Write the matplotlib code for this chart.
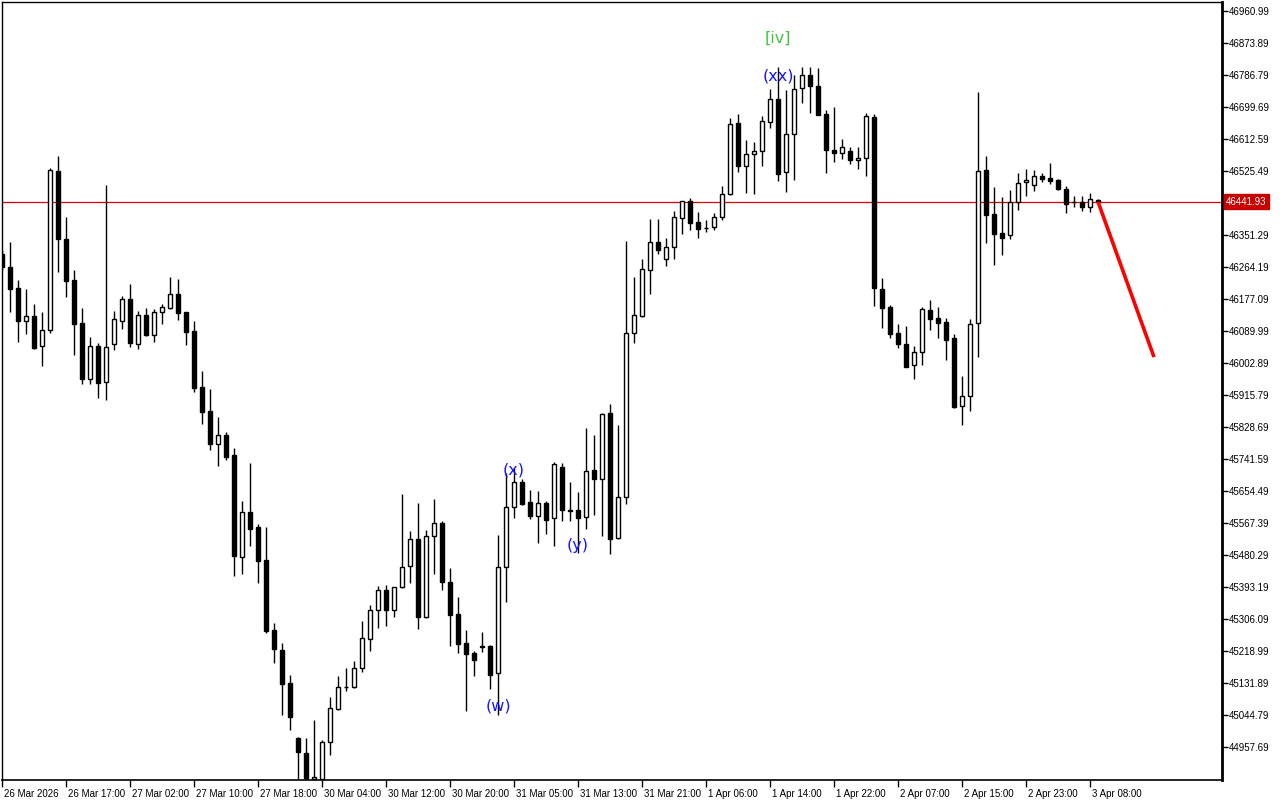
import matplotlib
matplotlib.use("Agg")
import matplotlib.pyplot as plt
import matplotlib.transforms as mtransforms
import numpy as np

# hourly candles, oldest first
opens = [46300, 46263, 46207, 46116, 46131, 46048, 46092, 46525, 46340, 46229,
         46112, 45960, 46048, 45950, 46056, 46118, 46177, 46055, 46134, 46080,
         46141, 46153, 46190, 46141, 46090, 45938, 45872, 45782, 45806, 45752,
         45475, 45596, 45556, 45466, 45276, 45222, 45132, 44982, 44941, 44871,
         44871, 44970, 45061, 45120, 45120, 45172, 45251, 45330, 45384, 45330,
         45394, 45450, 45523, 45312, 45531, 45567, 45406, 45319, 45240, 45213,
         45233, 45233, 45158, 45447, 45610, 45678, 45625, 45586, 45621, 45580,
         45720, 45602, 45602, 45583, 45712, 45688, 45866, 45526, 45637, 46084,
         46132, 46255, 46331, 46285, 46318, 46397, 46443, 46386, 46371, 46372,
         46399, 46464, 46655, 46538, 46571, 46579, 46658, 46721, 46522, 46625,
         46751, 46786, 46756, 46680, 46582, 46574, 46579, 46555, 46561, 46672,
         46203, 46154, 46084, 46056, 45997, 46032, 46146, 46125, 46114, 46070,
         45886, 45912, 46111, 46528, 46408, 46357, 46350, 46440, 46495, 46487,
         46511, 46506, 46501, 46476, 46441, 46440, 46428, 46446]
highs = [46311, 46332, 46229, 46204, 46164, 46142, 46534, 46566, 46399, 46256,
         46153, 46074, 46058, 46487, 46144, 46186, 46218, 46144, 46153, 46151,
         46164, 46237, 46232, 46142, 46116, 45981, 45932, 45856, 45814, 45771,
         45627, 45731, 45564, 45556, 45295, 45241, 45154, 44986, 44982, 45031,
         44977, 45094, 45151, 45173, 45192, 45301, 45343, 45396, 45399, 45393,
         45646, 45546, 45622, 45548, 45633, 45573, 45445, 45367, 45276, 45219,
         45271, 45235, 45536, 45703, 45717, 45688, 45656, 45654, 45627, 45734,
         45731, 45679, 45652, 45825, 45806, 45867, 45891, 45834, 46335, 46237,
         46286, 46395, 46395, 46342, 46417, 46445, 46452, 46414, 46391, 46412,
         46485, 46669, 46680, 46610, 46604, 46674, 46750, 46808, 46746, 46786,
         46808, 46808, 46805, 46692, 46700, 46613, 46592, 46591, 46683, 46680,
         46233, 46161, 46108, 46103, 46048, 46155, 46174, 46155, 46125, 46082,
         45967, 46123, 46741, 46566, 46482, 46455, 46474, 46520, 46531, 46528,
         46520, 46547, 46504, 46484, 46457, 46457, 46466, 46448]
lows = [46256, 46143, 46061, 46083, 46041, 45996, 46085, 46251, 46183, 46025,
        45947, 45946, 45907, 45902, 46038, 46095, 46046, 46040, 46077, 46060,
        46110, 46150, 46121, 46052, 45925, 45838, 45767, 45723, 45740, 45424,
        45428, 45506, 45405, 45269, 45187, 45046, 45004, 44850, 44855, 44860,
        44862, 44937, 45057, 45109, 45117, 45163, 45220, 45282, 45288, 45312,
        45391, 45405, 45280, 45310, 45429, 45386, 45233, 45214, 45056, 45152,
        45216, 45115, 45046, 45353, 45582, 45616, 45579, 45514, 45538, 45506,
        45574, 45572, 45485, 45552, 45590, 45533, 45482, 45524, 45620, 46058,
        46128, 46192, 46300, 46268, 46287, 46355, 46366, 46344, 46360, 46366,
        46392, 46461, 46524, 46465, 46462, 46540, 46643, 46497, 46469, 46502,
        46711, 46684, 46678, 46521, 46551, 46557, 46545, 46530, 46513, 46159,
        46099, 46072, 46045, 45991, 45960, 45998, 46094, 46072, 46012, 45880,
        45835, 45873, 46018, 46330, 46270, 46298, 46341, 46420, 46458, 46472,
        46496, 46491, 46473, 46412, 46428, 46417, 46415, 46440]
closes = [46263, 46204, 46118, 46131, 46045, 46092, 46528, 46340, 46227, 46110,
          45960, 46048, 45949, 46046, 46122, 46176, 46058, 46134, 46080, 46142,
          46154, 46190, 46140, 46086, 45936, 45870, 45782, 45806, 45748, 45477,
          45596, 45552, 45465, 45273, 45224, 45130, 45040, 44943, 44872, 44876,
          44971, 45063, 45120, 45121, 45172, 45254, 45330, 45384, 45330, 45392,
          45448, 45523, 45312, 45531, 45567, 45406, 45318, 45239, 45212, 45195,
          45229, 45154, 45447, 45610, 45678, 45619, 45587, 45621, 45575, 45728,
          45602, 45600, 45580, 45708, 45688, 45864, 45525, 45637, 46084, 46133,
          46258, 46331, 46311, 46318, 46399, 46443, 46385, 46368, 46370, 46399,
          46462, 46653, 46538, 46571, 46579, 46661, 46721, 46518, 46625, 46748,
          46786, 46756, 46679, 46582, 46574, 46590, 46555, 46561, 46674, 46208,
          46153, 46081, 46056, 45993, 46032, 46149, 46123, 46113, 46065, 45882,
          45913, 46108, 46525, 46407, 46355, 46344, 46440, 46492, 46501, 46511,
          46505, 46497, 46476, 46436, 46440, 46428, 46449, 46441.93]

time_labels = ["26 Mar 2026", "26 Mar 17:00", "27 Mar 02:00", "27 Mar 10:00",
               "27 Mar 18:00", "30 Mar 04:00", "30 Mar 12:00", "30 Mar 20:00",
               "31 Mar 05:00", "31 Mar 13:00", "31 Mar 21:00", "1 Apr 06:00",
               "1 Apr 14:00", "1 Apr 22:00", "2 Apr 07:00", "2 Apr 15:00",
               "2 Apr 23:00", "3 Apr 08:00"]
last_price = 46441.93
forecast_price = 46019
forecast_bar = 144

# wave marks: (label, bar, price, colour)
wave_marks = [("[iv]", 97, 46888, "#3cc83c"),
              ("(xx)", 97, 46784, "#1414ff"),
              ("(x)", 63.9, 45712, "#1414ff"),
              ("(y)", 72, 45505, "#1414ff"),
              ("(w)", 62, 45069, "#1414ff")]

price_tick_start = 44957.69
price_tick_step = 87.1

plt.rcParams['font.family'] = ['Liberation Sans', 'DejaVu Sans']

o = np.array(opens, dtype=float)
h = np.array(highs, dtype=float)
l = np.array(lows, dtype=float)
c = np.array(closes, dtype=float)
idx = np.arange(len(o))
up = c > o

fig = plt.figure(figsize=(12.8, 8), dpi=100)
ax = fig.add_axes([2 / 1280, 20 / 800, 1220 / 1280, 778 / 800])

ax.axhline(last_price, color='#e00000', linewidth=0.9, zorder=1)

ax.vlines(idx, l, h, color='black', linewidth=1.0, zorder=2)
ax.bar(idx[up], (c - o)[up], bottom=o[up], width=0.55, color='white',
       edgecolor='black', linewidth=1.0, zorder=3)
ax.bar(idx[~up], np.maximum((o - c)[~up], 1.5), bottom=c[~up], width=0.55,
       color='black', edgecolor='black', linewidth=1.0, zorder=3)

# forecast arrow line
ax.plot([idx[-1], forecast_bar], [last_price, forecast_price], color='#ff0000',
        linewidth=2.6, zorder=4, solid_capstyle='butt')

for txt, bx, py, col in wave_marks:
    ax.text(bx, py, txt, color=col, fontsize=11.5, ha='center', va='center',
            family='DejaVu Sans', zorder=5)

ax.set_xlim(0, 152.5)
ax.set_ylim(44867.8, 46985.6)

# price scale on the right
yt = price_tick_start + price_tick_step * np.arange(24)
yt = yt[np.abs(yt - last_price) > 20]
ax.yaxis.tick_right()
ax.set_yticks(yt)
ax.set_yticklabels([f"{v:.2f}" for v in yt])
ax.tick_params(axis='y', direction='out', length=4, width=1, pad=1,
               labelsize=7, colors='black')

xt = np.arange(0, 8 * len(time_labels), 8)
ax.set_xticks(xt)
ax.set_xticklabels(time_labels, ha='left')
ax.tick_params(axis='x', direction='out', length=5, width=1, pad=1.5,
               labelsize=7)
shift = mtransforms.ScaledTranslation(2 / 100, 0, fig.dpi_scale_trans)
for lab in ax.get_xticklabels():
    lab.set_transform(lab.get_transform() + shift)

for s in ax.spines.values():
    s.set_color('black')
    s.set_linewidth(1.0)
ax.spines['right'].set_linewidth(2.0)
ax.spines['bottom'].set_linewidth(1.2)

ax.annotate(f"{last_price:.2f}", xy=(1.0, last_price),
            xycoords=('axes fraction', 'data'), xytext=(3, 0),
            textcoords='offset points', ha='left', va='center',
            color='white', fontsize=7,
            bbox=dict(boxstyle='square,pad=0.25', fc='#c80000', ec='#c80000'),
            annotation_clip=False)

fig.savefig("out.png", dpi=100, facecolor='white')
